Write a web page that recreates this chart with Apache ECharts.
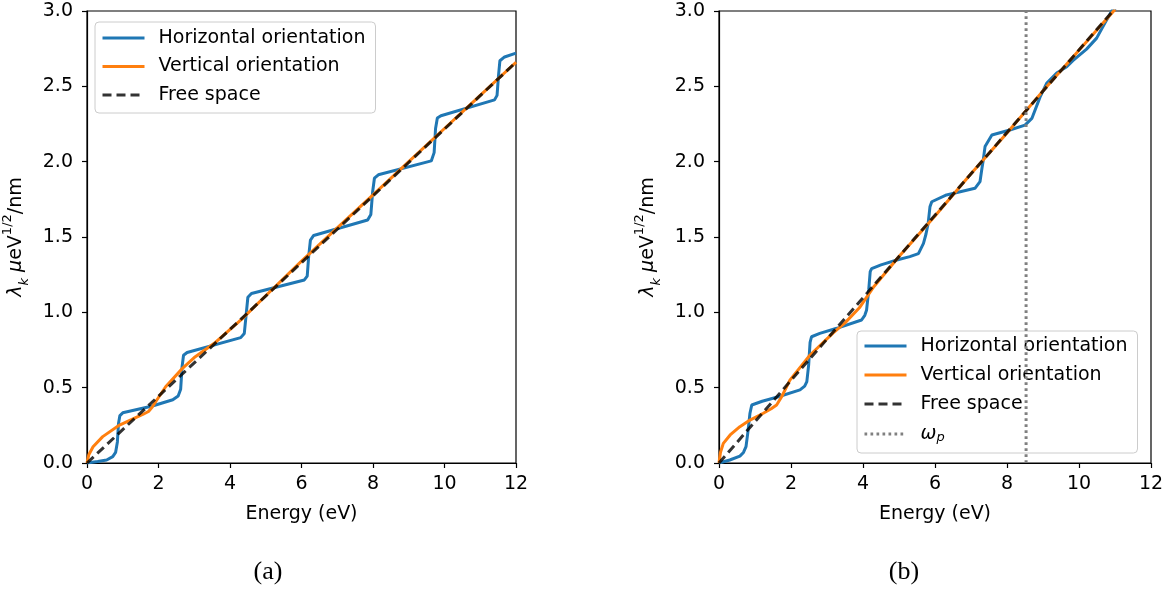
<!DOCTYPE html>
<html><head><meta charset="utf-8">
<script src="https://cdn.jsdelivr.net/npm/echarts@6/dist/echarts.min.js"></script>
<style>html,body{margin:0;padding:0;background:#fff}#c{width:1167px;height:590px}</style>
</head><body><div id="c"></div>
<script>
// ---- data (Energy eV, lambda_k) ----
const horizA = [[0,0],[0.3,0.01],[0.55,0.02],[0.72,0.042],[0.8,0.07],[0.85,0.14],[0.88,0.26],[0.92,0.315],[1.0,0.333],[1.83,0.378],[2.4,0.42],[2.55,0.445],[2.62,0.49],[2.66,0.64],[2.7,0.715],[2.8,0.733],[4.3,0.832],[4.4,0.86],[4.45,0.98],[4.5,1.1],[4.6,1.125],[6.08,1.215],[6.16,1.24],[6.2,1.37],[6.25,1.48],[6.34,1.51],[7.85,1.613],[7.94,1.65],[7.99,1.8],[8.04,1.89],[8.15,1.913],[9.63,2.005],[9.71,2.06],[9.75,2.22],[9.8,2.29],[9.9,2.305],[11.4,2.41],[11.47,2.44],[11.51,2.57],[11.55,2.67],[11.68,2.695],[12,2.72]];
const vertA = [[0,0],[0.05,0.055],[0.17,0.108],[0.44,0.175],[0.91,0.252],[1.3,0.295],[1.56,0.322],[1.72,0.342],[1.82,0.37],[1.93,0.41],[2.2,0.506],[2.67,0.628],[3.0,0.70],[3.59,0.80],[4.33,0.955],[5,1.11],[6,1.34],[7,1.56],[8,1.78],[9,2.0],[10,2.22],[11,2.44],[12,2.66]];
const freeA = [[0,0],[12,2.66]];

const horizB = [[0,0],[0.3,0.02],[0.58,0.046],[0.68,0.07],[0.75,0.108],[0.8,0.2],[0.86,0.33],[0.91,0.385],[1.2,0.41],[1.65,0.44],[2.25,0.485],[2.38,0.51],[2.44,0.54],[2.49,0.65],[2.53,0.8],[2.57,0.838],[2.8,0.86],[3.27,0.894],[3.96,0.949],[4.05,0.98],[4.1,1.016],[4.16,1.15],[4.2,1.27],[4.24,1.29],[4.5,1.315],[4.94,1.347],[5.3,1.37],[5.54,1.39],[5.68,1.458],[5.75,1.52],[5.81,1.59],[5.86,1.70],[5.91,1.734],[6.32,1.779],[7.11,1.823],[7.25,1.867],[7.3,1.95],[7.34,2.01],[7.39,2.1],[7.58,2.177],[8.08,2.21],[8.5,2.243],[8.69,2.287],[8.92,2.43],[9.1,2.52],[9.38,2.588],[9.66,2.63],[9.83,2.67],[10.21,2.747],[10.49,2.82],[10.72,2.92],[10.91,3.0],[11,3.04]];
const vertB = [[0,0],[0.04,0.07],[0.12,0.13],[0.31,0.186],[0.58,0.241],[0.86,0.285],[1.23,0.33],[1.45,0.36],[1.6,0.385],[1.74,0.44],[1.97,0.55],[2.53,0.717],[3.18,0.865],[3.5,0.93],[3.9,1.03],[4.3,1.17],[5,1.37],[6,1.64],[7,1.92],[8,2.19],[9,2.47],[10,2.74],[11,3.01]];
const freeB = [[0,0],[12,3.29]];
const omegaP = [[8.53,0],[8.53,3]];

const xTicks = {min:0, max:12, interval:2};
const yTicks = {min:0, max:3, interval:0.5};
const names = ['Horizontal orientation','Vertical orientation','Free space','ω_p'];
const captions = ['(a)','(b)'];

const F = 'DejaVu Sans';
const BLUE = '#1f77b4', ORANGE = '#ff7f0e', DASH = 'rgba(0,0,0,0.8)', DOT = '#808080';
const LW = 3;

function xAxis(gi){
  return {type:'value', gridIndex:gi, min:xTicks.min, max:xTicks.max, interval:xTicks.interval,
    name:'Energy (eV)', nameLocation:'middle', nameGap:42,
    nameTextStyle:{fontFamily:F, fontSize:19, color:'#000'},
    axisLine:{show:true, onZero:false, lineStyle:{color:'#000', width:1.2}},
    axisTick:{show:true, length:5, lineStyle:{color:'#000', width:1.2}},
    axisLabel:{fontFamily:F, fontSize:19, color:'#000', margin:12, formatter:v=>String(v)},
    splitLine:{show:false}};
}
function yAxis(gi){
  return {type:'value', gridIndex:gi, min:yTicks.min, max:yTicks.max, interval:yTicks.interval,
    name:'{g|λ}{s|k} {g|μ}{n|eV}{p|1/2}{n|/nm}', nameLocation:'middle', nameRotate:90, nameGap:56,
    nameTextStyle:{fontFamily:F, fontSize:19, color:'#000',
      rich:{
        g:{fontFamily:F, fontSize:19, fontStyle:'italic', color:'#000', lineHeight:30},
        n:{fontFamily:F, fontSize:19, color:'#000', lineHeight:30},
        s:{fontFamily:F, fontSize:13, fontStyle:'italic', color:'#000', verticalAlign:'bottom', lineHeight:30, padding:[10,0,0,0]},
        p:{fontFamily:F, fontSize:13, color:'#000', verticalAlign:'top', lineHeight:30, padding:[0,0,12,0]}
      }},
    axisLine:{show:true, onZero:false, lineStyle:{color:'#000', width:1.2}},
    axisTick:{show:true, length:5, lineStyle:{color:'#000', width:1.2}},
    axisLabel:{fontFamily:F, fontSize:19, color:'#000', margin:14, formatter:v=>v.toFixed(1)},
    splitLine:{show:false}};
}
function line(name, data, gi, color, width, type, z){
  return {name, type:'line', xAxisIndex:gi, yAxisIndex:gi, data, symbol:'none', showSymbol:false,
    smooth:false, clip:true, animation:false, z,
    lineStyle:{color, width, type, cap:'butt'}, itemStyle:{color}};
}

const legendCommon = {orient:'vertical', itemWidth:42, itemHeight:20, backgroundColor:'rgba(255,255,255,0.8)',
  borderColor:'#cccccc', borderWidth:1, borderRadius:4,
  itemStyle:{opacity:0, borderWidth:0},
  lineStyle:{width:LW},
  textStyle:{fontFamily:F, fontSize:19, color:'#000', lineHeight:20, padding:[0,0,0,9]},
  selectedMode:false};

const option = {
  backgroundColor:'#fff',
  animation:false,
  grid:[
    {left:84, top:11, width:432, height:452, show:true, borderColor:'#000', borderWidth:1.2, containLabel:false},
    {left:719, top:11, width:432, height:452, show:true, borderColor:'#000', borderWidth:1.2, containLabel:false}
  ],
  xAxis:[xAxis(0), xAxis(1)],
  yAxis:[yAxis(0), yAxis(1)],
  legend:[
    Object.assign({}, legendCommon, {left:95, top:22, padding:[6,10,8,6], itemGap:8.5,
      data:[names[0],names[1],names[2]]}),
    Object.assign({}, legendCommon, {left:857, top:331, padding:[5,10,9,6], itemGap:9,
      data:names,
      formatter: n => n==='ω_p' ? '{w|ω}{s|p}' : n,
      textStyle:Object.assign({}, legendCommon.textStyle, {rich:{
        w:{fontFamily:F, fontSize:19, fontStyle:'italic', color:'#000', lineHeight:20},
        s:{fontFamily:F, fontSize:13, fontStyle:'italic', color:'#000', verticalAlign:'bottom', lineHeight:20, padding:[8,0,0,0]}
      }})})
  ],
  series:[
    line(names[0], horizA, 0, BLUE, LW, 'solid', 2),
    line(names[1], vertA, 0, ORANGE, LW, 'solid', 3),
    line(names[2], freeA, 0, DASH, LW, [9,5], 4),
    line(names[0], horizB, 1, BLUE, LW, 'solid', 2),
    line(names[1], vertB, 1, ORANGE, LW, 'solid', 3),
    line(names[2], freeB, 1, DASH, LW, [9,5], 4),
    line(names[3], omegaP, 1, DOT, LW, [2.7,3.3], 5)
  ],
  graphic:[
    {type:'text', x:268, y:572, style:{text:captions[0], font:'26px "Liberation Serif"', fill:'#000', align:'center', verticalAlign:'middle'}},
    {type:'text', x:904, y:572, style:{text:captions[1], font:'26px "Liberation Serif"', fill:'#000', align:'center', verticalAlign:'middle'}}
  ]
};
const chart = echarts.init(document.getElementById('c'), null, {renderer:'canvas'});
chart.setOption(option);
</script>
</body></html>
